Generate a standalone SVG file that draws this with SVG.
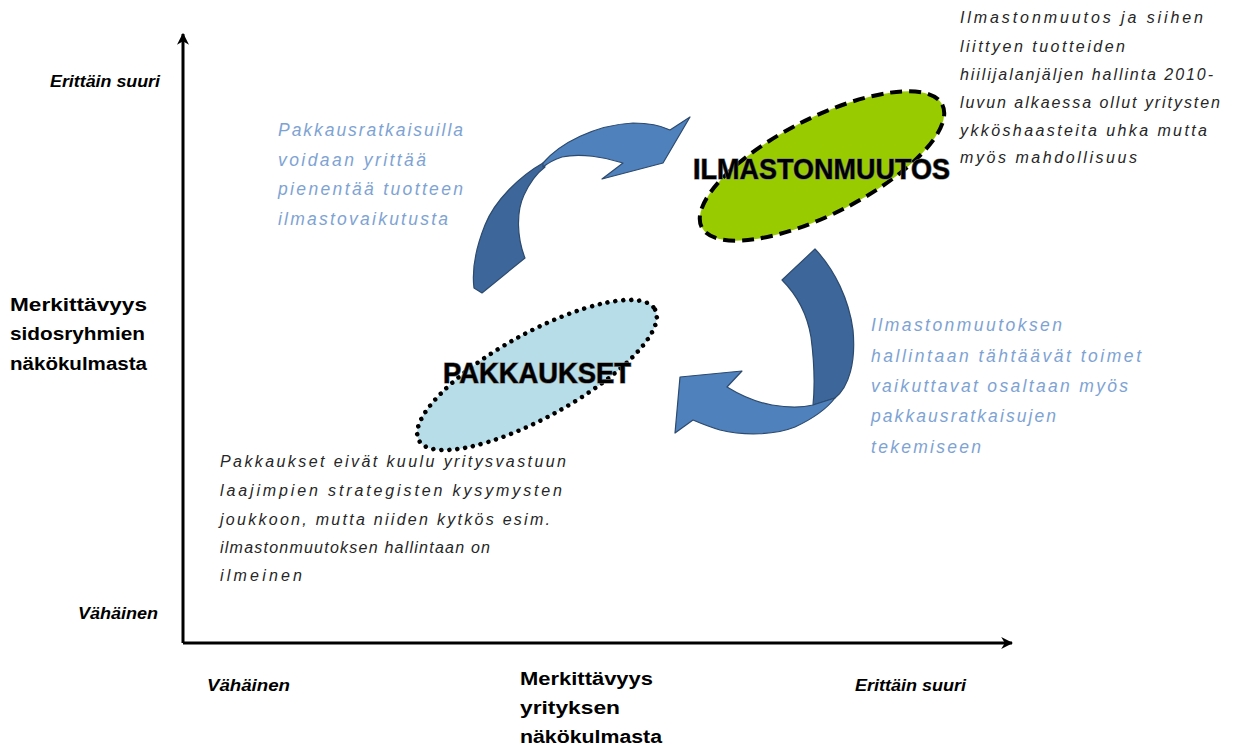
<svg xmlns="http://www.w3.org/2000/svg" width="1234" height="746" viewBox="0 0 1234 746">
  <defs>
    <style>
      .axis { stroke: #000; stroke-width: 3; fill: none; }
      .lbl { font-family: "Liberation Sans", Arial, sans-serif; font-weight: bold; fill: #000; }
      .lbl-i { font-family: "Liberation Sans", Arial, sans-serif; font-weight: bold; font-style: italic; fill: #000; font-size: 16px; }
      .note-blue { font-family: "Liberation Sans", Arial, sans-serif; font-style: italic; fill: #7EA3D3; font-size: 17.5px; }
      .note-dark { font-family: "Liberation Sans", Arial, sans-serif; font-style: italic; fill: #262626; font-size: 16px; }
      .node-title { font-family: "Liberation Sans", Arial, sans-serif; font-weight: bold; fill: #000; font-size: 29px; stroke: #7a7a7a; stroke-width: 1.2; paint-order: stroke; }
      .arrow-front { fill: #4F81BD; stroke: #2C4A6E; stroke-width: 1.2; stroke-linejoin: round; }
      .arrow-back { fill: #3D679A; stroke: #2C4A6E; stroke-width: 1.2; stroke-linejoin: round; }
    </style>
    <marker id="axis-head" viewBox="0 0 10 10" refX="9" refY="5" markerWidth="4" markerHeight="4" orient="auto-start-reverse">
      <path d="M0,0 L10,5 L0,10 L3,5 Z" fill="#000"/>
    </marker>
  </defs>

  <rect width="1234" height="746" fill="#fff"/>

  <!-- axes -->
  <g id="axes">
    <line class="axis" x1="183" y1="643" x2="183" y2="34" marker-end="url(#axis-head)"/>
    <line class="axis" x1="183" y1="643" x2="1012" y2="643" marker-end="url(#axis-head)"/>
  </g>

  <!-- axis labels -->
  <g id="y-axis-labels">
    <text class="lbl-i" x="50" y="87" textLength="110" lengthAdjust="spacingAndGlyphs">Erittäin suuri</text>
    <text class="lbl-i" x="78" y="619" textLength="80" lengthAdjust="spacingAndGlyphs">Vähäinen</text>
    <text class="lbl" font-size="17.5" x="10" y="311" textLength="137" lengthAdjust="spacingAndGlyphs">Merkittävyys</text>
    <text class="lbl" font-size="17.5" x="10" y="340" textLength="135" lengthAdjust="spacingAndGlyphs">sidosryhmien</text>
    <text class="lbl" font-size="17.5" x="10" y="370" textLength="137" lengthAdjust="spacingAndGlyphs">näkökulmasta</text>
  </g>
  <g id="x-axis-labels">
    <text class="lbl-i" x="207" y="691" textLength="83" lengthAdjust="spacingAndGlyphs">Vähäinen</text>
    <text class="lbl-i" x="855" y="691" textLength="111" lengthAdjust="spacingAndGlyphs">Erittäin suuri</text>
    <text class="lbl" font-size="17.5" x="520" y="685" textLength="133" lengthAdjust="spacingAndGlyphs">Merkittävyys</text>
    <text class="lbl" font-size="17.5" x="520" y="714" textLength="100" lengthAdjust="spacingAndGlyphs">yrityksen</text>
    <text class="lbl" font-size="17.5" x="520" y="743" textLength="142" lengthAdjust="spacingAndGlyphs">näkökulmasta</text>
  </g>

  <!-- curved arrows between the two themes -->
  <g id="connectors">
    <g id="arrow-to-ilmasto">
      <path class="arrow-back" d="M543,163 C520,176 495,200 485,225 C475,250 472,272 474,288 L482,293 L525,258 C517,238 516,212 524,195 C530,182 537,173 545,167 Z"/>
      <path class="arrow-front" d="M543,163 C560,143 595,125 633,123 C650,123 662,126 670,130 L690,117 L663,163 L602,179 L623,163 C605,157 580,153 562,157 C553,160 548,163 543,167 Z"/>
    </g>
    <g id="arrow-to-pakkaukset">
      <path class="arrow-back" d="M782,280 L815,249 C835,270 849,300 853,330 C856,362 849,387 835,398 L813,405 C815,385 814,360 811,337 C807,313 797,295 782,280 Z"/>
      <path class="arrow-front" d="M835,398 C825,411 810,420 795,427 C775,435 745,436 720,430 C710,427 700,423 693,420 L675,433 L680,377 L742,371 L727,387 C740,395 755,402 772,405 C790,408 805,407 813,405 Z"/>
    </g>
  </g>

  <!-- theme: climate change -->
  <g id="node-ilmastonmuutos">
    <ellipse cx="822" cy="166" rx="135" ry="48" transform="rotate(-27 822 166)" fill="#99CC00" stroke="#000" stroke-width="4" stroke-dasharray="12 7"/>
    <text class="node-title" x="693" y="179" textLength="257" lengthAdjust="spacingAndGlyphs">ILMASTONMUUTOS</text>
  </g>

  <!-- theme: packaging -->
  <g id="node-pakkaukset">
    <ellipse cx="537" cy="375" rx="135" ry="42" transform="rotate(-29 537 375)" fill="#B7DEE8" stroke="#000" stroke-width="4.5" stroke-linecap="round" stroke-dasharray="0 8"/>
    <text class="node-title" x="443" y="383" textLength="188" lengthAdjust="spacingAndGlyphs">PAKKAUKSET</text>
  </g>

  <!-- explanatory notes -->
  <g id="note-pakkausratkaisut">
    <text class="note-blue" x="278" y="136" textLength="185" lengthAdjust="spacing">Pakkausratkaisuilla</text>
    <text class="note-blue" x="278" y="166" textLength="148" lengthAdjust="spacing">voidaan yrittää</text>
    <text class="note-blue" x="278" y="195" textLength="185" lengthAdjust="spacing">pienentää tuotteen</text>
    <text class="note-blue" x="278" y="225" textLength="170" lengthAdjust="spacing">ilmastovaikutusta</text>
  </g>
  <g id="note-hallinta">
    <text class="note-blue" x="871" y="331" textLength="191" lengthAdjust="spacing">Ilmastonmuutoksen</text>
    <text class="note-blue" x="871" y="362" textLength="270" lengthAdjust="spacing">hallintaan tähtäävät toimet</text>
    <text class="note-blue" x="871" y="392" textLength="257" lengthAdjust="spacing">vaikuttavat osaltaan myös</text>
    <text class="note-blue" x="871" y="422" textLength="185" lengthAdjust="spacing">pakkausratkaisujen</text>
    <text class="note-blue" x="871" y="453" textLength="110" lengthAdjust="spacing">tekemiseen</text>
  </g>
  <g id="note-ilmasto">
    <text class="note-dark" x="960" y="23" textLength="243" lengthAdjust="spacing">Ilmastonmuutos ja siihen</text>
    <text class="note-dark" x="960" y="52" textLength="165" lengthAdjust="spacing">liittyen tuotteiden</text>
    <text class="note-dark" x="960" y="80" textLength="253" lengthAdjust="spacing">hiilijalanjäljen hallinta 2010-</text>
    <text class="note-dark" x="960" y="108" textLength="260" lengthAdjust="spacing">luvun alkaessa ollut yritysten</text>
    <text class="note-dark" x="960" y="136" textLength="247" lengthAdjust="spacing">ykköshaasteita uhka mutta</text>
    <text class="note-dark" x="960" y="163" textLength="177" lengthAdjust="spacing">myös mahdollisuus</text>
  </g>
  <g id="note-pakkaukset">
    <text class="note-dark" x="220" y="467" textLength="346" lengthAdjust="spacing">Pakkaukset eivät kuulu yritysvastuun</text>
    <text class="note-dark" x="220" y="496" textLength="342" lengthAdjust="spacing">laajimpien strategisten kysymysten</text>
    <text class="note-dark" x="220" y="525" textLength="330" lengthAdjust="spacing">joukkoon, mutta niiden kytkös esim.</text>
    <text class="note-dark" x="220" y="553" textLength="270" lengthAdjust="spacing">ilmastonmuutoksen hallintaan on</text>
    <text class="note-dark" x="220" y="581" textLength="82" lengthAdjust="spacing">ilmeinen</text>
  </g>
</svg>
